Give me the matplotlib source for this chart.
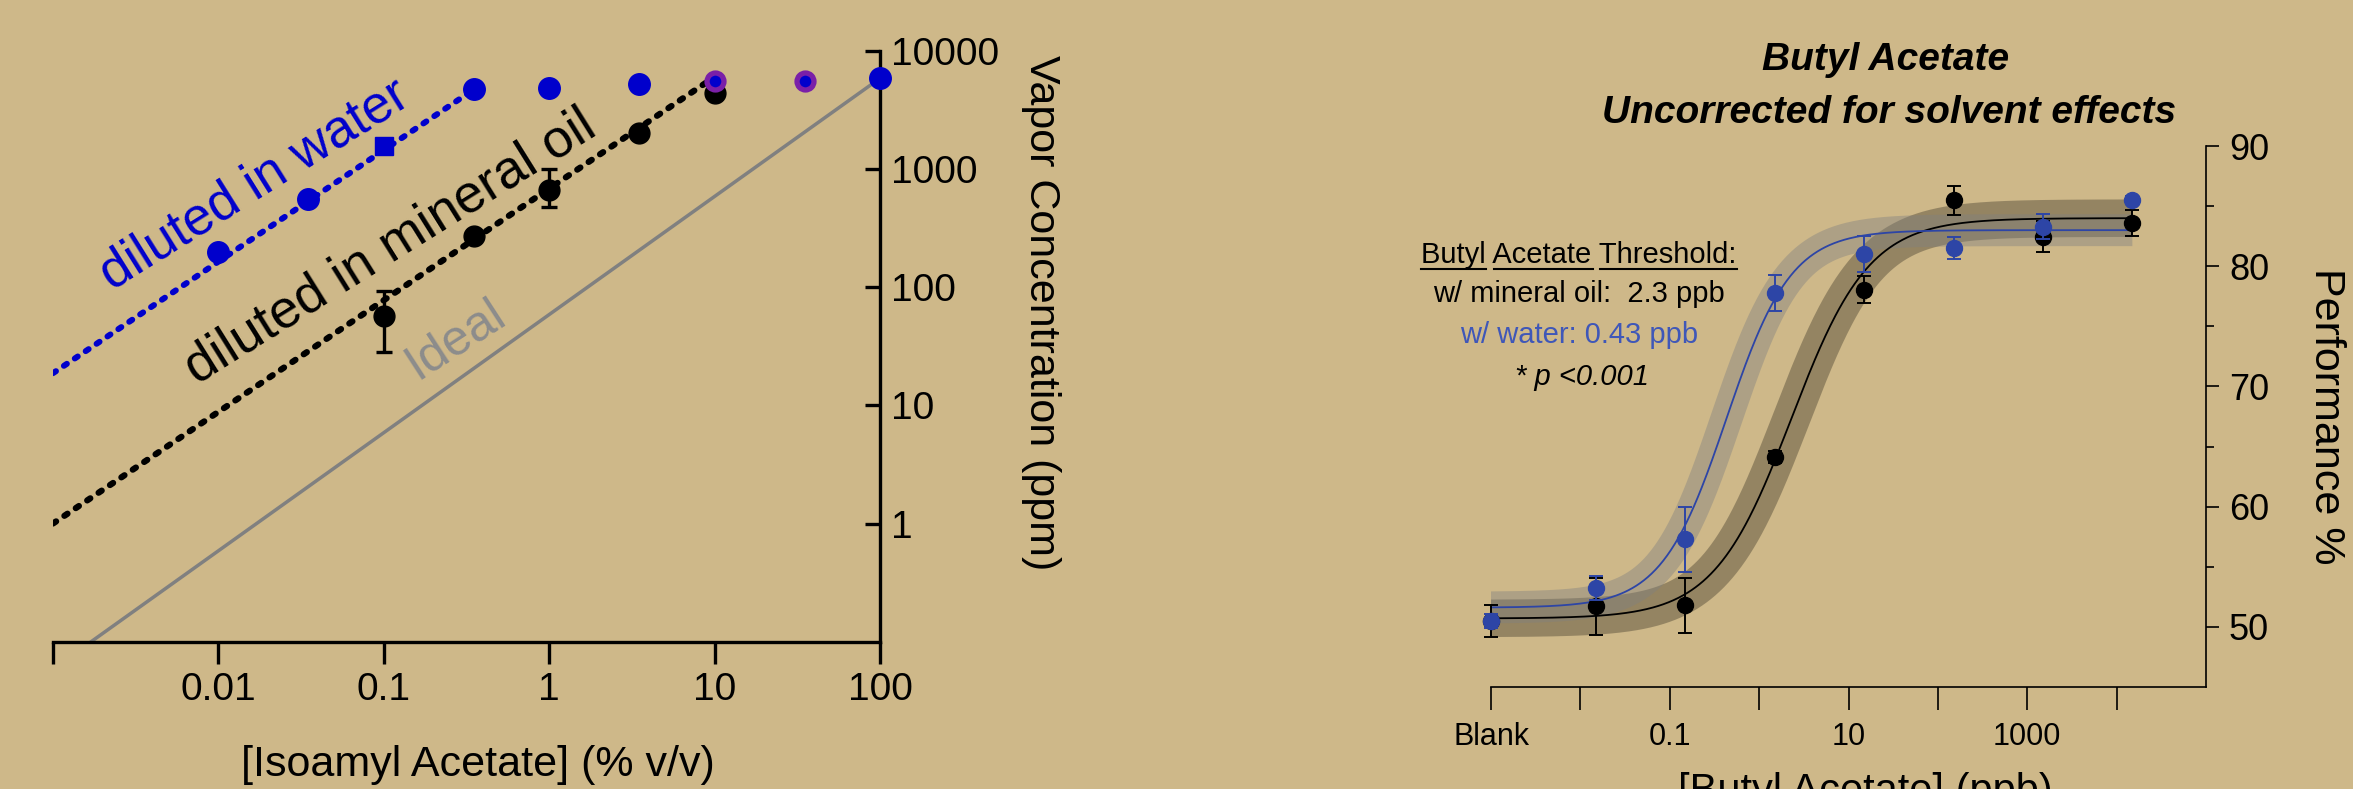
import numpy as np
import matplotlib
matplotlib.use("Agg")
import matplotlib.pyplot as plt
from matplotlib.lines import Line2D

plt.rcParams['font.family'] = ['Liberation Sans', 'DejaVu Sans']

W, H = 2353, 789
BG = '#CEB889'

# ---------------- Isoamyl acetate vapor concentration ----------------
iso_pct_water = [0.01, 0.035, 0.35, 1, 3.5, 100]
iso_ppm_water = [200, 560, 4700, 4830, 5180, 5840]
iso_pct_water_sq = [0.1]
iso_ppm_water_sq = [1570]
iso_pct_sat = [10, 35]
iso_ppm_sat = [5510, 5540]
iso_pct_oil = [0.1, 0.35, 1, 3.5, 10]
iso_ppm_oil = [57, 268, 668, 2030, 4360]
iso_oil_err_lo = [29, 0, 188, 0, 0]
iso_oil_err_hi = [35, 0, 332, 0, 0]

water_fit_pct = [0.001, 0.35]
water_fit_ppm = [18.7, 4700]
oil_fit_pct = [0.001, 10]
oil_fit_ppm = [1.0, 6000]
ideal_pct = [0.0017, 100]
ideal_ppm = [0.1, 5840]

iso_xticks = [0.001, 0.01, 0.1, 1, 10, 100]
iso_xticklabels = ['', '0.01', '0.1', '1', '10', '100']
iso_yticks = [1, 10, 100, 1000, 10000]
iso_yticklabels = ['1', '10', '100', '1000', '10000']

# ---------------- Butyl acetate performance ----------------
ba_ppb = [0.001, 0.015, 0.15, 1.5, 15, 150, 1500, 15000]
oil_perf = [50.5, 51.7, 51.8, 64.1, 78.05, 85.5, 82.45, 83.6]
oil_sem = [1.3, 2.4, 2.3, 0.5, 1.1, 1.2, 1.3, 1.05]
water_perf = [50.5, 53.2, 57.3, 77.75, 81.0, 81.5, 83.3, 85.5]
water_sem = [0.6, 1.0, 2.7, 1.5, 1.5, 0.9, 1.05, 0.3]

# four-parameter logistic fits: bottom, top, EC50 (ppb), Hill slope
oil_fit = (50.7, 84.0, 2.3, 1.0)
water_fit = (51.6, 83.0, 0.43, 1.2)

ba_xticks = [0.001, 0.01, 0.1, 1, 10, 100, 1000, 10000]
ba_xticklabels = ['Blank', '', '0.1', '', '10', '', '1000', '']
ba_yticks = [50, 60, 70, 80, 90]
ba_yminor = [55, 65, 75, 85]


def logistic(x, bottom, top, ec50, hill):
    x = np.asarray(x, dtype=float)
    return bottom + (top - bottom) / (1 + 10 ** ((np.log10(ec50) - np.log10(x)) * hill))


fig = plt.figure(figsize=(W / 100, H / 100), dpi=100, facecolor=BG)


def px_axes(x0, x1, ytop, ybot):
    return fig.add_axes([x0 / W, 1 - ybot / H, (x1 - x0) / W, (ybot - ytop) / H])


# ======================= left panel =======================
ax1 = px_axes(53, 880, 50.7, 641.7)
ax1.set_facecolor('none')
ax1.set_xscale('log')
ax1.set_yscale('log')
ax1.set_xlim(0.001, 100)
ax1.set_ylim(0.1, 10000)
for s in ('top', 'left'):
    ax1.spines[s].set_visible(False)
for s in ('bottom', 'right'):
    ax1.spines[s].set_linewidth(2.4)
ax1.yaxis.tick_right()
ax1.set_xticks(iso_xticks)
ax1.set_xticklabels(iso_xticklabels)
ax1.set_yticks(iso_yticks)
ax1.set_yticklabels(iso_yticklabels)
ax1.minorticks_off()
ax1.tick_params(axis='x', direction='out', length=16, width=2.4, pad=6, labelsize=28)
ax1.tick_params(axis='y', direction='in', length=11, width=2.4, pad=8, labelsize=28)

dash_kw = dict(dash_capstyle='round', dashes=(0.6, 1.6))
ax1.plot(ideal_pct, ideal_ppm, color='#808080', lw=2.5, zorder=2, clip_on=False)
ax1.plot(oil_fit_pct, oil_fit_ppm, color='black', lw=4.5, zorder=3, **dash_kw)
ax1.plot(water_fit_pct, water_fit_ppm, color='#0000CC', lw=4.3, zorder=3, **dash_kw)

has_err = np.array(iso_oil_err_lo) > 0
ax1.errorbar(np.array(iso_pct_oil)[has_err], np.array(iso_ppm_oil)[has_err],
             yerr=[np.array(iso_oil_err_lo)[has_err], np.array(iso_oil_err_hi)[has_err]],
             fmt='none', ecolor='black', elinewidth=2.4, capsize=6, capthick=2.4, zorder=4)
ax1.plot(iso_pct_oil, iso_ppm_oil, 'o', color='black', ms=15, zorder=5, clip_on=False)
ax1.plot(iso_pct_water, iso_ppm_water, 'o', color='#0000CC', ms=15.5, zorder=6, clip_on=False)
ax1.plot(iso_pct_water_sq, iso_ppm_water_sq, 's', color='#0000CC', ms=13, zorder=6)
ax1.plot(iso_pct_sat, iso_ppm_sat, 'o', mfc='#0000CC', mec='#7A1FA8', ms=12.2, mew=3.8,
         zorder=7, clip_on=False)

ax1.text(0.00227, 92.7, 'diluted in water', rotation=32, rotation_mode='anchor',
         ha='left', va='baseline', fontsize=38, color='#0000CC', zorder=8)
ax1.text(0.0074, 14.9, 'diluted in mineral oil', rotation=32, rotation_mode='anchor',
         ha='left', va='baseline', fontsize=38.5, color='black', zorder=8)
ax1.text(0.16, 16.4, 'Ideal', rotation=33, rotation_mode='anchor',
         ha='left', va='baseline', fontsize=36, color='#8C8C8C', zorder=8)

fig.text(478 / W, 1 - 765 / H, '[Isoamyl Acetate] (% v/v)', ha='center', va='center',
         fontsize=31)
fig.text(1041 / W, 1 - 313 / H, 'Vapor Concentration (ppm)', rotation=-90,
         ha='center', va='center', fontsize=31)

# ======================= right panel =======================
ax2 = px_axes(1491, 2206, 146, 687)
ax2.set_facecolor('none')
ax2.set_xscale('log')
ax2.set_xlim(0.001, 1e5)
ax2.set_ylim(45, 90)
for s in ('top', 'left'):
    ax2.spines[s].set_visible(False)
for s in ('bottom', 'right'):
    ax2.spines[s].set_linewidth(1.2)
ax2.yaxis.tick_right()
ax2.set_xticks(ba_xticks)
ax2.set_xticklabels(ba_xticklabels)
ax2.xaxis.set_minor_locator(matplotlib.ticker.NullLocator())
ax2.set_yticks(ba_yticks)
ax2.set_yticks(ba_yminor, minor=True)
ax2.tick_params(axis='x', direction='out', length=16.5, width=1.2, pad=9, labelsize=22)
ax2.tick_params(axis='y', which='major', direction='out', length=9.5, width=1.2, pad=7,
                labelsize=26)
ax2.tick_params(axis='y', which='minor', direction='out', length=5.5, width=1.2)

xs = np.logspace(-3, np.log10(ba_ppb[-1]), 500)
oil_curve = logistic(xs, *oil_fit)
water_curve = logistic(xs, *water_fit)
BLUE = '#2D45A6'

ax2.plot(xs, oil_curve, color='black', alpha=0.28, lw=27, solid_capstyle='butt',
         solid_joinstyle='round', zorder=1)
ax2.plot(xs, water_curve, color='#808080', alpha=0.42, lw=23, solid_capstyle='butt',
         solid_joinstyle='round', zorder=1.5)
ax2.plot(xs, oil_curve, color='black', lw=1.3, zorder=3)
ax2.plot(xs, water_curve, color=BLUE, lw=1.3, zorder=3)

ax2.errorbar(ba_ppb, oil_perf, yerr=oil_sem, fmt='o', color='black', ms=11.5,
             elinewidth=1.4, capsize=5, capthick=1.4, zorder=4, clip_on=False)
ax2.errorbar(ba_ppb, water_perf, yerr=water_sem, fmt='o', color=BLUE, ms=11.5,
             elinewidth=1.4, capsize=5, capthick=1.4, zorder=5, clip_on=False)

fig.text(1886 / W, 1 - 70 / H, 'Butyl Acetate', ha='center', va='baseline',
         fontsize=28, fontweight='bold', fontstyle='italic')
fig.text(1889 / W, 1 - 123 / H, 'Uncorrected for solvent effects', ha='center',
         va='baseline', fontsize=28, fontweight='bold', fontstyle='italic')

fig.text(1865 / W, 1 - 803 / H, '[Butyl Acetate] (ppb)', ha='center', va='baseline',
         fontsize=30)
fig.text(2326 / W, 1 - 416 / H, 'Performance %', rotation=-90, ha='center',
         va='center', fontsize=31)

# threshold summary
LEG_X = 1579
head = fig.text(LEG_X / W, 1 - 263 / H, 'Butyl Acetate Threshold:', ha='center',
                va='baseline', fontsize=21)
fig.text(LEG_X / W, 1 - 302 / H, 'w/ mineral oil:  2.3 ppb', ha='center', va='baseline',
         fontsize=21)
fig.text(LEG_X / W, 1 - 343 / H, 'w/ water: 0.43 ppb', ha='center', va='baseline',
         fontsize=21, color='#3F57B8')
fig.text(1582 / W, 1 - 385 / H, '* p <0.001', ha='center', va='baseline', fontsize=21,
         fontstyle='italic')

# underline each word of the heading
fig.canvas.draw()
renderer = fig.canvas.get_renderer()
bb = head.get_window_extent(renderer)
prop = head.get_fontproperties()
full = head.get_text()
pos = 0
for word in full.split(' '):
    start = full.index(word, pos)
    pre_w = renderer.get_text_width_height_descent(full[:start], prop, ismath=False)[0] if start else 0
    word_w = renderer.get_text_width_height_descent(word, prop, ismath=False)[0]
    x0 = bb.x0 + pre_w
    x1 = x0 + word_w
    y = (H - 268.5)
    fig.add_artist(Line2D([x0 / W, x1 / W], [y / H, y / H], transform=fig.transFigure,
                          color='black', lw=1.5))
    pos = start + len(word)

fig.savefig('out.png', dpi=100, facecolor=BG)
